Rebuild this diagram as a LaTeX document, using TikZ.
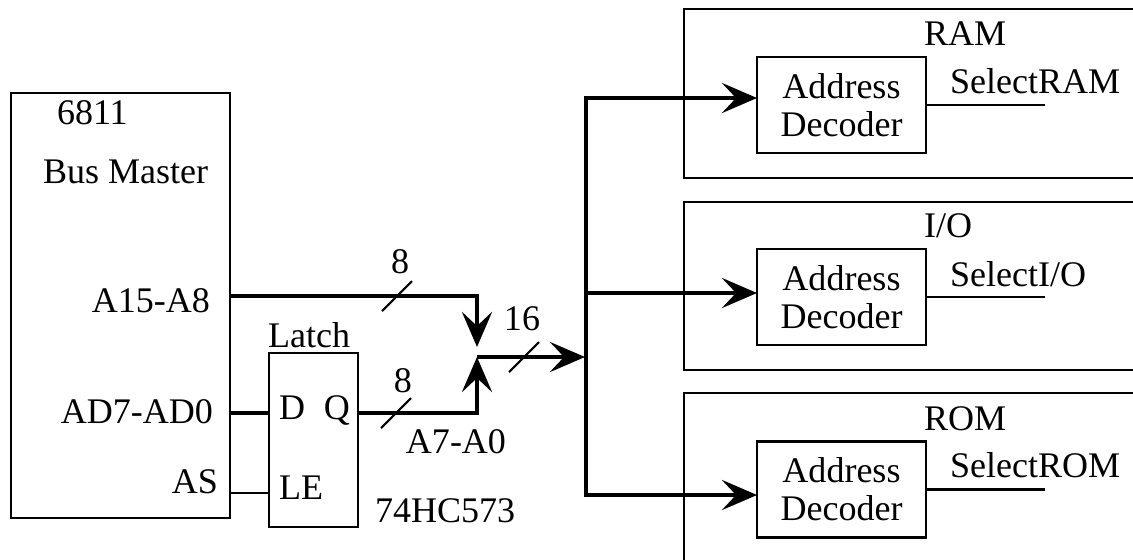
\documentclass[tikz,border=0pt]{standalone}
\usepackage{fontspec}
\setmainfont{Liberation Serif}
\usetikzlibrary{arrows.meta}

\begin{document}
\begin{tikzpicture}[x=0.02cm, y=-0.02cm,
    every node/.style={font=\fontsize{20.5}{21.6}\selectfont, inner sep=0pt, outer sep=0pt},
    box/.style={draw, line width=1.3pt},
    dec/.style={box, align=center, minimum width=3.38cm, minimum height=1.92cm},
    bus/.style={line width=2.8pt},
    sig/.style={line width=1.2pt},
    tip/.style={-{Stealth[length=0.7cm, width=0.6cm, inset=0.28cm]}}]
  \useasboundingbox (0,0) rectangle (1133,559);
  \clip (0,0) rectangle (1133,559);

  \node[box, minimum width=4.38cm, minimum height=8.5cm] (master) at (120.5,305.5) {};
  \node[anchor=base west] (m1) at (57,124) {6811};
  \node[anchor=base west] (m2) at (43,183) {Bus Master};
  \node[anchor=base east] (pa15) at (210,312) {A15-A8};
  \node[anchor=base east] (pad) at (213,423) {AD7-AD0};
  \node[anchor=base east] (pas) at (218,493) {AS};
  \coordinate (o15) at (230,296);
  \coordinate (oad) at (230,413);
  \coordinate (oas) at (230,493);

  \node[box, minimum width=1.78cm, minimum height=3.48cm] (latch) at (313.5,440) {};
  \node[anchor=base] (lt) at (309,347) {Latch};
  \node[anchor=base west] (ld) at (279,419) {D};
  \node[anchor=base east] (lq) at (350,419) {Q};
  \node[anchor=base west] (lle) at (279,499) {LE};
  \node[anchor=base west] (chip) at (375,522) {74HC573};
  \coordinate (oq) at (358,413);

  \node[box, minimum width=9.52cm, minimum height=3.38cm] (ram) at (922,93.5) {};
  \node[box, minimum width=9.52cm, minimum height=3.36cm] (io) at (922,286) {};
  \node[box, minimum width=9.52cm, minimum height=4.14cm] (rom) at (922,496.5) {};
  \node[anchor=base west] (tram) at (924,45) {RAM};
  \node[anchor=base west] (tio) at (924,237) {I/O};
  \node[anchor=base west] (trom) at (924,430) {ROM};

  \node[dec] (ramdec) at (841.5,105) {Address\\Decoder};
  \node[dec] (iodec) at (841.5,297) {Address\\Decoder};
  \node[dec] (romdec) at (841.5,489.5) {Address\\Decoder};
  \draw[sig] (ramdec.east) -- ++(119,0);
  \draw[sig] (iodec.east) -- ++(119,0);
  \draw[sig] (romdec.east) -- ++(119,0);
  \node[anchor=base west] (sram) at (950,93) {SelectRAM};
  \node[anchor=base west] (sio) at (950,286) {SelectI/O};
  \node[anchor=base west] (srom) at (950,477) {SelectROM};

  \coordinate (join) at (477,357);
  \coordinate (busin) at (585,357);
  \coordinate (tapram) at (586,98);
  \coordinate (tapio) at (586,293);
  \coordinate (taprom) at (586,495);

  \draw[bus] (oad) -- (oad -| latch.west);
  \draw[sig] (oas) -- (oas -| latch.west);
  \draw[bus,tip] (o15) -| ([yshift=0.2cm]join);
  \draw[bus,tip] (oq) -| (join);
  \draw[bus,tip] (join) -- (busin);
  \draw[bus,tip] (tapio) -- (tapram) -- (tapram -| ramdec.west);
  \draw[bus,tip] (tapio) -- (tapio -| iodec.west);
  \draw[bus,tip] (tapio) -- (taprom) -- (taprom -| romdec.west);

  \foreach \p in {(397,296),(396,413),(524,357)}
    \draw[sig] \p ++(-15,15) -- ++(30,-30);
  \node[anchor=base] (n8a) at (400,273) {8};
  \node[anchor=base] (n8b) at (403,392) {8};
  \node[anchor=base] (n16) at (522,330) {16};
  \node[anchor=base] (qa) at (456,453) {A7-A0};
\end{tikzpicture}
\end{document}
